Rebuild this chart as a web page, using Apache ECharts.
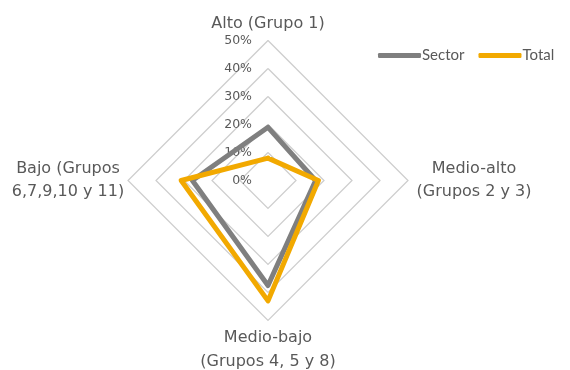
<!DOCTYPE html>
<html>
<head>
<meta charset="utf-8">
<script src="https://cdn.jsdelivr.net/npm/echarts@6/dist/echarts.min.js"></script>
<style>
  html, body { margin: 0; padding: 0; background: #ffffff; }
  #chart { width: 570px; height: 370px; }
</style>
</head>
<body>
<div id="chart"></div>
<script>
// Indicators in drawing order (ECharts lays them out counter-clockwise from the top)
const categories = [
  'Alto (Grupo 1)',
  'Bajo (Grupos\n6,7,9,10 y 11)',
  'Medio-bajo\n(Grupos 4, 5 y 8)',
  'Medio-alto\n(Grupos 2 y 3)'
];
// Share of each group, in %
const sectorValues = [19, 27, 37.5, 17];
const totalValues = [8, 31, 43, 18];
const seriesNames = ['Sector', 'Total'];
const axisMax = 50;
const tickStep = 10;

const textColor = '#595959';
const nameFont = 'DejaVu Sans';

const chart = echarts.init(document.getElementById('chart'));

const indicator = categories.map(function (name, i) {
  const ind = { name: name, min: 0, max: axisMax };
  if (i === 0) {
    ind.axisLabel = { show: true };
  }
  return ind;
});

chart.setOption({
  animation: false,
  backgroundColor: '#ffffff',
  legend: {
    data: seriesNames,
    left: 378,
    top: 48,
    padding: 0,
    itemWidth: 43,
    itemHeight: 5,
    itemGap: 14,
    icon: 'roundRect',
    textStyle: {
      fontFamily: 'Lato',
      fontSize: 15,
      color: textColor,
      padding: [0, 0, 0, -4]
    }
  },
  radar: {
    center: [268, 180.5],
    radius: 140,
    startAngle: 90,
    shape: 'polygon',
    splitNumber: axisMax / tickStep,
    nameGap: 5,
    axisName: {
      color: textColor,
      fontFamily: nameFont,
      fontSize: 16,
      formatter: function (name) {
        if (name.indexOf('Bajo') === 0) return '{l|' + name + '}';
        if (name.indexOf('Medio-alto') === 0) return '{r|' + name + '}';
        return '{c|' + name + '}';
      },
      rich: {
        l: { width: 110, align: 'center', lineHeight: 23, fontFamily: nameFont, fontSize: 16, color: textColor },
        r: { width: 122, align: 'center', lineHeight: 23, fontFamily: nameFont, fontSize: 16, color: textColor },
        c: { align: 'center', lineHeight: 24, fontFamily: nameFont, fontSize: 16, color: textColor }
      }
    },
    axisLine: { show: false },
    axisTick: { show: false },
    axisLabel: {
      show: false,
      margin: 16,
      color: textColor,
      fontFamily: nameFont,
      fontSize: 12.5,
      formatter: function (v) { return v + '%'; }
    },
    splitLine: { lineStyle: { color: '#CDCDCD', width: 1.2 } },
    splitArea: { show: false },
    indicator: indicator
  },
  series: [{
    type: 'radar',
    symbol: 'none',
    data: [
      {
        name: seriesNames[0],
        value: sectorValues,
        lineStyle: { color: '#7F7F7F', width: 5, join: 'round', cap: 'round' },
        itemStyle: { color: '#7F7F7F' }
      },
      {
        name: seriesNames[1],
        value: totalValues,
        lineStyle: { color: '#F2A900', width: 5, join: 'round', cap: 'round' },
        itemStyle: { color: '#F2A900' }
      }
    ]
  }]
});
</script>
</body>
</html>
